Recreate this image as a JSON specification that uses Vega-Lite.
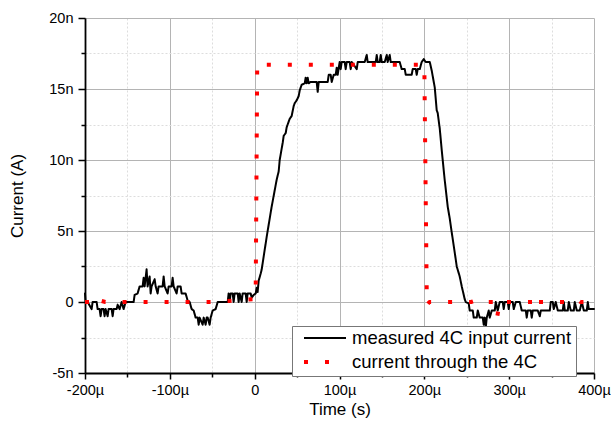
{
  "$schema": "https://vega.github.io/schema/vega-lite/v6.json",
  "width": 509,
  "height": 355,
  "autosize": {"type": "none"},
  "padding": {"left": 85, "top": 18, "right": 17, "bottom": 55},
  "background": "white",
  "config": {"view": {"stroke": null}, "font": "Liberation Sans"},
  "datasets": {
    "measured": [{"t":-200,"i":0.6},{"t":-199.3,"i":0},{"t":-196.9,"i":0},{"t":-192.2,"i":-0.5},{"t":-191,"i":0},{"t":-186.3,"i":0},{"t":-185.1,"i":-0.5},{"t":-182.8,"i":-0.5},{"t":-181.6,"i":-1.0},{"t":-180.4,"i":-0.5},{"t":-178.1,"i":-0.5},{"t":-176.9,"i":-1.0},{"t":-175.7,"i":-0.5},{"t":-173.3,"i":-1.0},{"t":-172.2,"i":-0.5},{"t":-168.6,"i":-0.5},{"t":-167.4,"i":-1.0},{"t":-166.3,"i":-0.5},{"t":-162.7,"i":-0.5},{"t":-161.5,"i":-0.2},{"t":-159.2,"i":-0.5},{"t":-156.8,"i":0},{"t":-154.5,"i":-0.5},{"t":-152.1,"i":0},{"t":-142.7,"i":0},{"t":-141.5,"i":0.5},{"t":-138,"i":0.6},{"t":-135.6,"i":1.1},{"t":-132.1,"i":1.1},{"t":-130.9,"i":1.7},{"t":-129.7,"i":1.1},{"t":-127.4,"i":2.3},{"t":-126.2,"i":1.1},{"t":-123.8,"i":1.8},{"t":-122.6,"i":0.6},{"t":-121.5,"i":1.1},{"t":-117.9,"i":1.6},{"t":-116.7,"i":1.1},{"t":-114.4,"i":0.6},{"t":-113.2,"i":1.1},{"t":-108.5,"i":1.1},{"t":-107.3,"i":1.8},{"t":-106.1,"i":1.1},{"t":-102.6,"i":0.6},{"t":-101.4,"i":1.1},{"t":-97.9,"i":1.1},{"t":-96.7,"i":1.7},{"t":-95.5,"i":1.1},{"t":-92,"i":0.6},{"t":-90.8,"i":1.1},{"t":-87.3,"i":1.1},{"t":-86.1,"i":0.6},{"t":-81.4,"i":0.6},{"t":-79,"i":0.1},{"t":-76.6,"i":0},{"t":-74.3,"i":-0.5},{"t":-71.9,"i":-0.6},{"t":-69.6,"i":-1.1},{"t":-67.2,"i":-1.1},{"t":-66,"i":-1.6},{"t":-64.9,"i":-1.1},{"t":-61.3,"i":-1.6},{"t":-60.1,"i":-1.1},{"t":-57.8,"i":-1.6},{"t":-56.6,"i":-1.1},{"t":-55.4,"i":-1.1},{"t":-53.1,"i":-1.6},{"t":-51.9,"i":-1.1},{"t":-49.5,"i":-0.6},{"t":-46,"i":-0.5},{"t":-43.6,"i":0},{"t":-31.8,"i":0},{"t":-30.7,"i":0.6},{"t":-29.5,"i":0},{"t":-28.3,"i":0.6},{"t":-25.9,"i":0.6},{"t":-24.8,"i":0},{"t":-23.6,"i":0.6},{"t":-20,"i":0.6},{"t":-18.9,"i":0},{"t":-17.7,"i":0.6},{"t":-15.3,"i":0},{"t":-14.2,"i":0.6},{"t":-10.6,"i":0.6},{"t":-9.4,"i":0},{"t":-8.3,"i":0.6},{"t":-4.7,"i":0.6},{"t":-3.5,"i":0.3},{"t":-1.2,"i":0.5},{"t":1.2,"i":0.6},{"t":2.4,"i":1.0},{"t":3.5,"i":0.7},{"t":4.7,"i":1.5},{"t":7.1,"i":2.0},{"t":8.3,"i":2.3},{"t":14.2,"i":4.6},{"t":20,"i":6.7},{"t":25.9,"i":8.6},{"t":28.3,"i":9.2},{"t":29.5,"i":10.0},{"t":33,"i":11.2},{"t":34.2,"i":11.7},{"t":36.6,"i":11.9},{"t":37.7,"i":12.3},{"t":41.3,"i":12.9},{"t":43.6,"i":13.1},{"t":46,"i":13.8},{"t":47.2,"i":14.0},{"t":49.5,"i":14.2},{"t":51.9,"i":14.5},{"t":53.1,"i":14.9},{"t":55.4,"i":15.3},{"t":59,"i":15.4},{"t":60.1,"i":15.8},{"t":61.3,"i":15.4},{"t":62.5,"i":15.8},{"t":63.7,"i":15.4},{"t":66,"i":15.5},{"t":73.1,"i":15.5},{"t":74.3,"i":14.8},{"t":75.5,"i":15.5},{"t":86.1,"i":15.5},{"t":87.3,"i":16.0},{"t":89.6,"i":16.0},{"t":90.8,"i":15.5},{"t":93.2,"i":16.0},{"t":95.5,"i":16.0},{"t":96.7,"i":16.5},{"t":97.9,"i":16.0},{"t":99.1,"i":16.5},{"t":100.2,"i":16.9},{"t":101.4,"i":16.4},{"t":102.6,"i":16.9},{"t":106.1,"i":16.9},{"t":107.3,"i":16.4},{"t":108.5,"i":16.9},{"t":112,"i":16.9},{"t":113.2,"i":16.4},{"t":114.4,"i":16.9},{"t":120.3,"i":16.4},{"t":121.5,"i":16.9},{"t":129.7,"i":16.9},{"t":132.1,"i":17.4},{"t":133.2,"i":16.9},{"t":142.7,"i":16.9},{"t":143.9,"i":17.4},{"t":145,"i":16.9},{"t":147.4,"i":16.9},{"t":148.6,"i":17.4},{"t":149.8,"i":16.9},{"t":153.3,"i":16.9},{"t":155.7,"i":17.4},{"t":156.8,"i":16.9},{"t":159.2,"i":17.4},{"t":160.4,"i":16.9},{"t":171,"i":16.9},{"t":173.3,"i":16.4},{"t":176.9,"i":16.4},{"t":178.1,"i":16.0},{"t":185.1,"i":16.0},{"t":186.3,"i":16.4},{"t":189.9,"i":16.4},{"t":191,"i":16.0},{"t":192.2,"i":16.4},{"t":194.6,"i":16.4},{"t":196.9,"i":16.9},{"t":199.3,"i":17.1},{"t":201.6,"i":16.9},{"t":206.4,"i":16.9},{"t":208.7,"i":16.3},{"t":211.1,"i":15.5},{"t":212.3,"i":15.1},{"t":214.6,"i":13.5},{"t":215.8,"i":13.3},{"t":218.2,"i":12.2},{"t":220.5,"i":10.7},{"t":224,"i":8.6},{"t":227.6,"i":6.7},{"t":229.9,"i":5.9},{"t":232.3,"i":4.9},{"t":235.8,"i":3.5},{"t":238.2,"i":2.5},{"t":241.7,"i":1.8},{"t":244.1,"i":1.1},{"t":247.6,"i":0.2},{"t":248.8,"i":0},{"t":252.3,"i":-0.1},{"t":253.5,"i":-0.6},{"t":257.1,"i":-0.6},{"t":258.2,"i":-1.1},{"t":261.8,"i":-1.1},{"t":263,"i":-0.6},{"t":265.3,"i":-1.1},{"t":268.9,"i":-1.1},{"t":270,"i":-1.6},{"t":271.2,"i":-1.1},{"t":272.4,"i":-1.8},{"t":273.6,"i":-1.1},{"t":275.9,"i":-0.6},{"t":277.1,"i":-1.1},{"t":279.5,"i":-0.6},{"t":283,"i":-0.6},{"t":284.2,"i":0},{"t":286.5,"i":-0.6},{"t":288.9,"i":0},{"t":292.4,"i":0},{"t":293.6,"i":-0.5},{"t":294.8,"i":0},{"t":298.3,"i":0},{"t":299.5,"i":-0.5},{"t":300.7,"i":0},{"t":304.2,"i":0},{"t":305.4,"i":-0.5},{"t":307.8,"i":0},{"t":312.5,"i":0},{"t":314.8,"i":-0.6},{"t":319.6,"i":-0.6},{"t":320.7,"i":-1.1},{"t":321.9,"i":-0.6},{"t":325.5,"i":-0.6},{"t":326.6,"i":-1.1},{"t":327.8,"i":-0.6},{"t":331.4,"i":-0.6},{"t":333.7,"i":-0.6},{"t":336.1,"i":-1.0},{"t":337.3,"i":-0.6},{"t":347.9,"i":-0.6},{"t":349,"i":0},{"t":351.4,"i":0},{"t":352.6,"i":-0.5},{"t":354.9,"i":0},{"t":357.3,"i":-0.6},{"t":363.2,"i":-0.6},{"t":364.4,"i":0},{"t":365.6,"i":-0.6},{"t":369.1,"i":-0.6},{"t":370.3,"i":0},{"t":372.6,"i":-0.6},{"t":376.2,"i":-0.6},{"t":377.3,"i":0},{"t":379.7,"i":-0.6},{"t":383.2,"i":-0.6},{"t":385.6,"i":0},{"t":388,"i":-0.6},{"t":391.5,"i":-0.6},{"t":392.7,"i":0},{"t":393.9,"i":-0.5},{"t":400,"i":-0.5}],
    "through": [{"t":-200,"i":0},{"t":-194,"i":0},{"t":-192,"i":-0.25},{"t":-189,"i":0},{"t":-182,"i":0.1},{"t":-176,"i":0},{"t":-100,"i":0},{"t":-50,"i":0},{"t":0,"i":0.2},{"t":1.2,"i":0.5},{"t":3,"i":16.8},{"t":6,"i":16.7},{"t":200,"i":16.7},{"t":201.5,"i":8},{"t":203,"i":-0.2},{"t":206,"i":0},{"t":255,"i":0},{"t":265,"i":0.2},{"t":270,"i":0},{"t":283,"i":0},{"t":286,"i":-1.0},{"t":289,"i":0},{"t":329,"i":0},{"t":332,"i":0.5},{"t":335,"i":0},{"t":378,"i":0},{"t":381,"i":0.15},{"t":384,"i":0},{"t":400,"i":0}]
  },
  "encoding": {
    "x": {
      "field": "t", "type": "quantitative",
      "scale": {"domain": [-200, 400], "nice": false, "zero": false},
      "axis": {
        "title": "Time (s)",
        "values": [-200,-150,-100,-50,0,50,100,150,200,250,300,350,400],
        "labelExpr": "datum.value % 100 === 0 ? (datum.value === 0 ? '0' : datum.value + 'µ') : ''",
        "labelFlush": false, "labelOverlap": false,
        "labelFontSize": 14.5, "labelColor": "#000", "labelPadding": 4,
        "tickColor": "#000", "tickWidth": 1.5,
        "tickSize": {"condition": {"test": "datum.value % 100 !== 0", "value": 4}, "value": 6},
        "domainColor": "#000", "domainWidth": 1.8,
        "grid": true,
        "gridColor": {"condition": {"test": "datum.value % 100 !== 0", "value": "#dddddd"}, "value": "#b4b4b4"},
        "gridDash": {"condition": {"test": "datum.value % 100 !== 0", "value": [2, 2]}, "value": []},
        "gridWidth": 1,
        "titleFontSize": 17, "titleFontWeight": "normal", "titleColor": "#000", "titlePadding": 5
      }
    },
    "y": {
      "field": "i", "type": "quantitative",
      "scale": {"domain": [-5, 20], "nice": false, "zero": false},
      "axis": {
        "title": "Current (A)",
        "values": [-5,-2.5,0,2.5,5,7.5,10,12.5,15,17.5,20],
        "labelExpr": "datum.value % 5 === 0 ? (datum.value === 0 ? '0' : datum.value + 'n') : ''",
        "labelFlush": false, "labelOverlap": false,
        "labelFontSize": 14.5, "labelColor": "#000", "labelPadding": 5,
        "tickColor": "#000", "tickWidth": 1.5,
        "tickSize": {"condition": {"test": "datum.value % 5 !== 0", "value": 4}, "value": 7},
        "domainColor": "#000", "domainWidth": 1.8,
        "grid": true,
        "gridColor": {"condition": {"test": "datum.value % 5 !== 0", "value": "#dddddd"}, "value": "#b4b4b4"},
        "gridDash": {"condition": {"test": "datum.value % 5 !== 0", "value": [2, 2]}, "value": []},
        "gridWidth": 1,
        "titleFontSize": 17, "titleFontWeight": "normal", "titleColor": "#000", "titlePadding": 22
      }
    }
  },
  "layer": [
    {
      "data": {"name": "measured"},
      "mark": {"type": "line", "strokeCap": "round", "strokeJoin": "round"},
      "encoding": {
        "color": {
          "datum": "measured 4C input current",
          "type": "nominal",
          "scale": {"domain": ["measured 4C input current", "current through the 4C"], "range": ["#000000", "#ff0000"]},
          "legend": {
            "title": null, "orient": "none", "legendX": 207, "legendY": 308,
            "fillColor": "white", "strokeColor": "#777777",
            "padding": 4, "clipHeight": 16, "rowPadding": 5,
            "symbolType": "stroke", "symbolSize": 1764, "symbolOffset": 6,
            "labelFontSize": 18.5, "labelColor": "#000", "labelOffset": 4, "labelLimit": 400,
            "labelExpr": "datum.label + '\u00a0\u00a0'"
          }
        },
        "strokeDash": {
          "datum": "measured 4C input current",
          "type": "nominal",
          "scale": {"domain": ["measured 4C input current", "current through the 4C"], "range": [[1, 0], [4, 17]]}
        },
        "strokeWidth": {
          "datum": "measured 4C input current",
          "type": "ordinal",
          "scale": {"domain": ["measured 4C input current", "current through the 4C"], "range": [2, 4]}
        }
      }
    },
    {
      "data": {"name": "through"},
      "mark": {"type": "line", "strokeCap": "butt", "strokeJoin": "round"},
      "encoding": {
        "color": {"datum": "current through the 4C", "type": "nominal"},
        "strokeDash": {"datum": "current through the 4C", "type": "nominal"},
        "strokeWidth": {"datum": "current through the 4C", "type": "ordinal"}
      }
    }
  ]
}
